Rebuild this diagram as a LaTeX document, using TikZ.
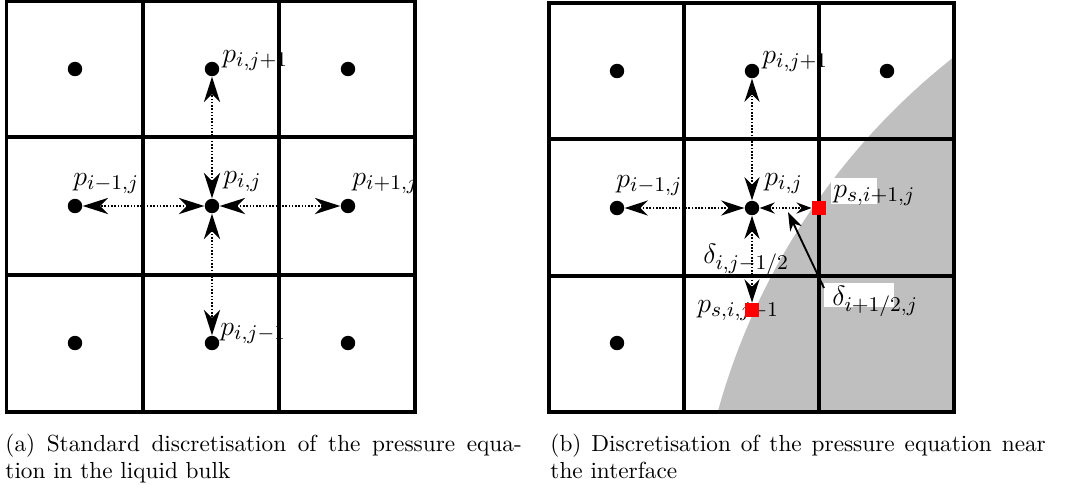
\documentclass[tikz,border=0pt]{standalone}
\usetikzlibrary{arrows.meta}
\definecolor{interf}{RGB}{191,191,191}
\begin{document}
\begin{tikzpicture}[x=0.43pt,y=-0.43pt,
  gridline/.style={line width=1.7pt},
  pdot/.style={circle, fill=black, inner sep=0pt, minimum size=6.2pt},
  psq/.style={rectangle, fill=red, inner sep=0pt, minimum size=6pt},
  lbl/.style={inner sep=0pt, anchor=base west, font=\fontsize{13}{15}\selectfont},
  captext/.style={inner sep=0pt, anchor=base west, font=\fontsize{10}{12}\selectfont},
  connA/.style={line width=0.6pt, dash pattern=on 0.7pt off 0.7pt,
    {Stealth[length=11pt,width=7pt,inset=3.5pt]}-{Stealth[length=11pt,width=7pt,inset=3.5pt]}},
  connB/.style={line width=0.6pt, dash pattern=on 0.7pt off 0.7pt,
    {Stealth[length=10pt,width=6.5pt,inset=3.2pt]}-{Stealth[length=10pt,width=6.5pt,inset=3.2pt]}},
  connC/.style={line width=0.6pt, dash pattern=on 0.7pt off 0.7pt,
    {Stealth[length=6.5pt,width=4.8pt,inset=2.2pt]}-{Stealth[length=6.5pt,width=4.8pt,inset=2.2pt]}},
  pointer/.style={line width=0.8pt, -{Stealth[length=8pt,width=5.5pt,inset=2.5pt]}}
]
\useasboundingbox (0,0) rectangle (1066,491);

% ---------- interface region (b) ----------
\begin{scope}
  \clip (549,2.7) rectangle (954,412);
  \fill[interf] (1374.5,592.6) circle (681);
\end{scope}

% white label backgrounds (b)
\fill[white] (831,178) rectangle (877,204);
\fill[white] (824,283) rectangle (894,307);

% ---------- labels (a) ----------
\node[lbl] (la1) at (222,62) {$p_{i,j+1}$};
\node[lbl] (la2) at (73,185) {$p_{i-1,j}$};
\node[lbl] (la3) at (223,183) {$p_{i,j}$};
\node[lbl] (la4) at (352,185) {$p_{i+1,j}$};
\node[lbl] (la5) at (220,335) {$p_{i,j-1}$};

% ---------- labels (b) ----------
\node[lbl] (lb1) at (762,63) {$p_{i,j+1}$};
\node[lbl] (lb2) at (616,187) {$p_{i-1,j}$};
\node[lbl] (lb3) at (764,185) {$p_{i,j}$};
\node[lbl] (lb4) at (833,197) {$p_{s,i+1,j}$};
\node[lbl] (lb5) at (703,263) {$\delta_{i,j-1/2}$};
\node[lbl] (lb6) at (697,312) {$p_{s,i,j-1}$};
\node[lbl] (lb7) at (832,305) {$\delta_{i+1/2,j}$};

% ---------- grids ----------
\draw[gridline] (6.5,1.5) rectangle (415,412);
\draw[gridline] (143,1.5) -- (143,412) (279,1.5) -- (279,412)
                (6.5,137) -- (415,137) (6.5,275) -- (415,275);
\draw[gridline] (549,2.7) rectangle (954,412);
\draw[gridline] (684,2.7) -- (684,412) (819,2.7) -- (819,412)
                (549,139) -- (954,139) (549,276) -- (954,276);

% ---------- points (a) ----------
\node[pdot] (a11) at (75,69) {};
\node[pdot] (a21) at (212,69) {};
\node[pdot] (a31) at (348,69) {};
\node[pdot] (a12) at (75,206) {};
\node[pdot] (a22) at (212,206) {};
\node[pdot] (a32) at (348,206) {};
\node[pdot] (a13) at (75,343) {};
\node[pdot] (a23) at (212,343) {};
\node[pdot] (a33) at (348,343) {};

% ---------- points (b) ----------
\node[pdot] (b11) at (617,71) {};
\node[pdot] (b21) at (752,71) {};
\node[pdot] (b31) at (887,71) {};
\node[pdot] (b12) at (617,208) {};
\node[pdot] (b22) at (752,208) {};
\node[pdot] (b13) at (617,343) {};
\node[psq] (sr) at (819,208) {};
\node[psq] (sd) at (752,310) {};

% ---------- connectors (a) ----------
\draw[connA] (a22) -- (a21);
\draw[connA] (a22) -- (a23);
\draw[connA] (a22) -- (a12);
\draw[connA] (a22) -- (a32);

% ---------- connectors (b) ----------
\draw[connB] (b22) -- (b21);
\draw[connB] (b22) -- (b12);
\draw[connB] (b22) -- (sd);
\draw[connC] (b22) -- (sr);
\coordinate (pstart) at (824,288);
\coordinate (ptip) at (788,212);
\draw[pointer] (pstart) -- (ptip);

% ---------- captions ----------
\node[captext] (ca1) at (5,451) {\hbox to 222pt{(a) Standard discretisation of the pressure equa-}};
\node[captext] (ca2) at (5,478) {tion in the liquid bulk};
\node[captext] (cb1) at (550,451) {\hbox to 213pt{(b) Discretisation of the pressure equation near}};
\node[captext] (cb2) at (550,478) {the interface};
\end{tikzpicture}
\end{document}
